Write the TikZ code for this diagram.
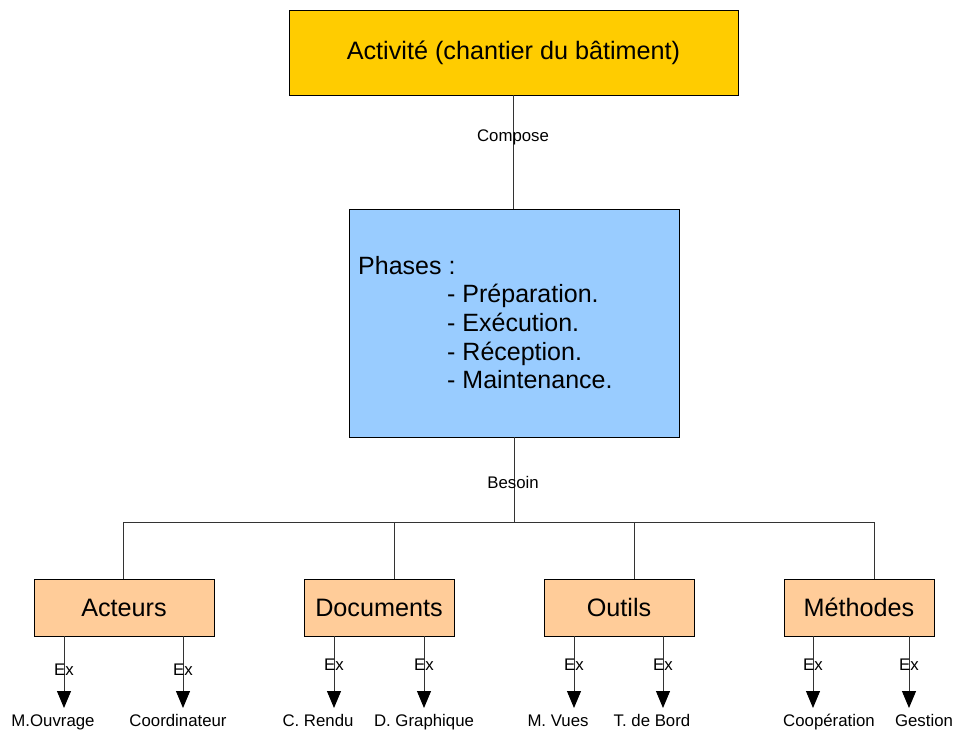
\documentclass[tikz,border=0pt]{standalone}
\usepackage{fontspec}
\setmainfont{Liberation Sans}
\usetikzlibrary{arrows.meta}
\definecolor{topc}{HTML}{FFCC00}
\definecolor{phc}{HTML}{99CCFF}
\definecolor{botc}{HTML}{FFCC99}
\begin{document}
\begin{tikzpicture}[x={(1pt,0)},y={(0,-1pt)},
  box/.style={draw=black,line width=0.9pt,inner sep=0pt,font=\fontsize{25.2}{29}\selectfont},
  bigtext/.style={font=\fontsize{25}{28.7}\selectfont,inner sep=0pt},
  small/.style={font=\fontsize{16.8}{20}\selectfont,inner sep=0pt},
  conn/.style={draw=black!80,line width=1pt},
  arr/.style={conn,-{Triangle[length=17pt,width=14pt,color=black]}}]
\useasboundingbox (0,0) rectangle (954,730);

% top box
\node[box,fill=topc,minimum width=449pt,minimum height=85pt] (act) at (513.5,52.5) {Activité (chantier du bâtiment)};

% phases box
\node[box,fill=phc,minimum width=330pt,minimum height=228pt] (phases) at (514,323) {};
\node[bigtext,align=left,anchor=west] (phtxt) at (358,322.5)
  {Phases :\\\hspace*{89pt}- Préparation.\\\hspace*{89pt}- Exécution.\\\hspace*{89pt}- Réception.\\\hspace*{89pt}- Maintenance.};

\draw[conn] (act.south) -- (act.south |- phases.north);
\node[small] (compose) at (513,137) {Compose};

% bottom boxes
\node[box,fill=botc,minimum width=180pt,minimum height=57pt] (acteurs) at (124,607.5) {Acteurs};
\node[box,fill=botc,minimum width=150pt,minimum height=57pt] (documents) at (379,607.5) {Documents};
\node[box,fill=botc,minimum width=150pt,minimum height=57pt] (outils) at (619,607.5) {Outils};
\node[box,fill=botc,minimum width=150pt,minimum height=57pt] (methodes) at (859,607.5) {Méthodes};

% tree
\coordinate (bus) at (514,522);
\coordinate (jA) at (123,522);
\coordinate (jD) at (394,522);
\coordinate (jO) at (634,522);
\coordinate (jM) at (874,522);
\draw[conn] (phases.south) -- (bus);
\node[small] (besoin) at (513,482) {Besoin};
\draw[conn] (jA) -- (jM);
\draw[conn] (jA) -- (jA |- acteurs.north);
\draw[conn] (jD) -- (jD |- documents.north);
\draw[conn] (jO) -- (jO |- outils.north);
\draw[conn] (jM) -- (jM |- methodes.north);

% leaves
\node[small,anchor=base] (l1) at (53,726.5) {M.Ouvrage};
\node[small,anchor=base] (l2) at (178,726.5) {Coordinateur};
\node[small,anchor=base] (l3) at (318,726.5) {C. Rendu};
\node[small,anchor=base] (l4) at (424,726.5) {D. Graphique};
\node[small,anchor=base] (l5) at (558,726.5) {M. Vues};
\node[small,anchor=base] (l6) at (652,726.5) {T. de Bord};
\node[small,anchor=base] (l7) at (829,726.5) {Coopération};
\node[small,anchor=base] (l8) at (924,726.5) {Gestion};

\coordinate (t1) at (64,708);
\coordinate (t2) at (183,708);
\coordinate (t3) at (334,708);
\coordinate (t4) at (424,708);
\coordinate (t5) at (574,708);
\coordinate (t6) at (663,708);
\coordinate (t7) at (813,708);
\coordinate (t8) at (909,708);

\draw[arr] (acteurs.south -| t1) -- node[small,pos=0.47] {Ex} (t1);
\draw[arr] (acteurs.south -| t2) -- node[small,pos=0.47] {Ex} (t2);
\draw[arr] (documents.south -| t3) -- node[small,pos=0.4] {Ex} (t3);
\draw[arr] (documents.south -| t4) -- node[small,pos=0.4] {Ex} (t4);
\draw[arr] (outils.south -| t5) -- node[small,pos=0.4] {Ex} (t5);
\draw[arr] (outils.south -| t6) -- node[small,pos=0.4] {Ex} (t6);
\draw[arr] (methodes.south -| t7) -- node[small,pos=0.4] {Ex} (t7);
\draw[arr] (methodes.south -| t8) -- node[small,pos=0.4] {Ex} (t8);
\end{tikzpicture}
\end{document}
